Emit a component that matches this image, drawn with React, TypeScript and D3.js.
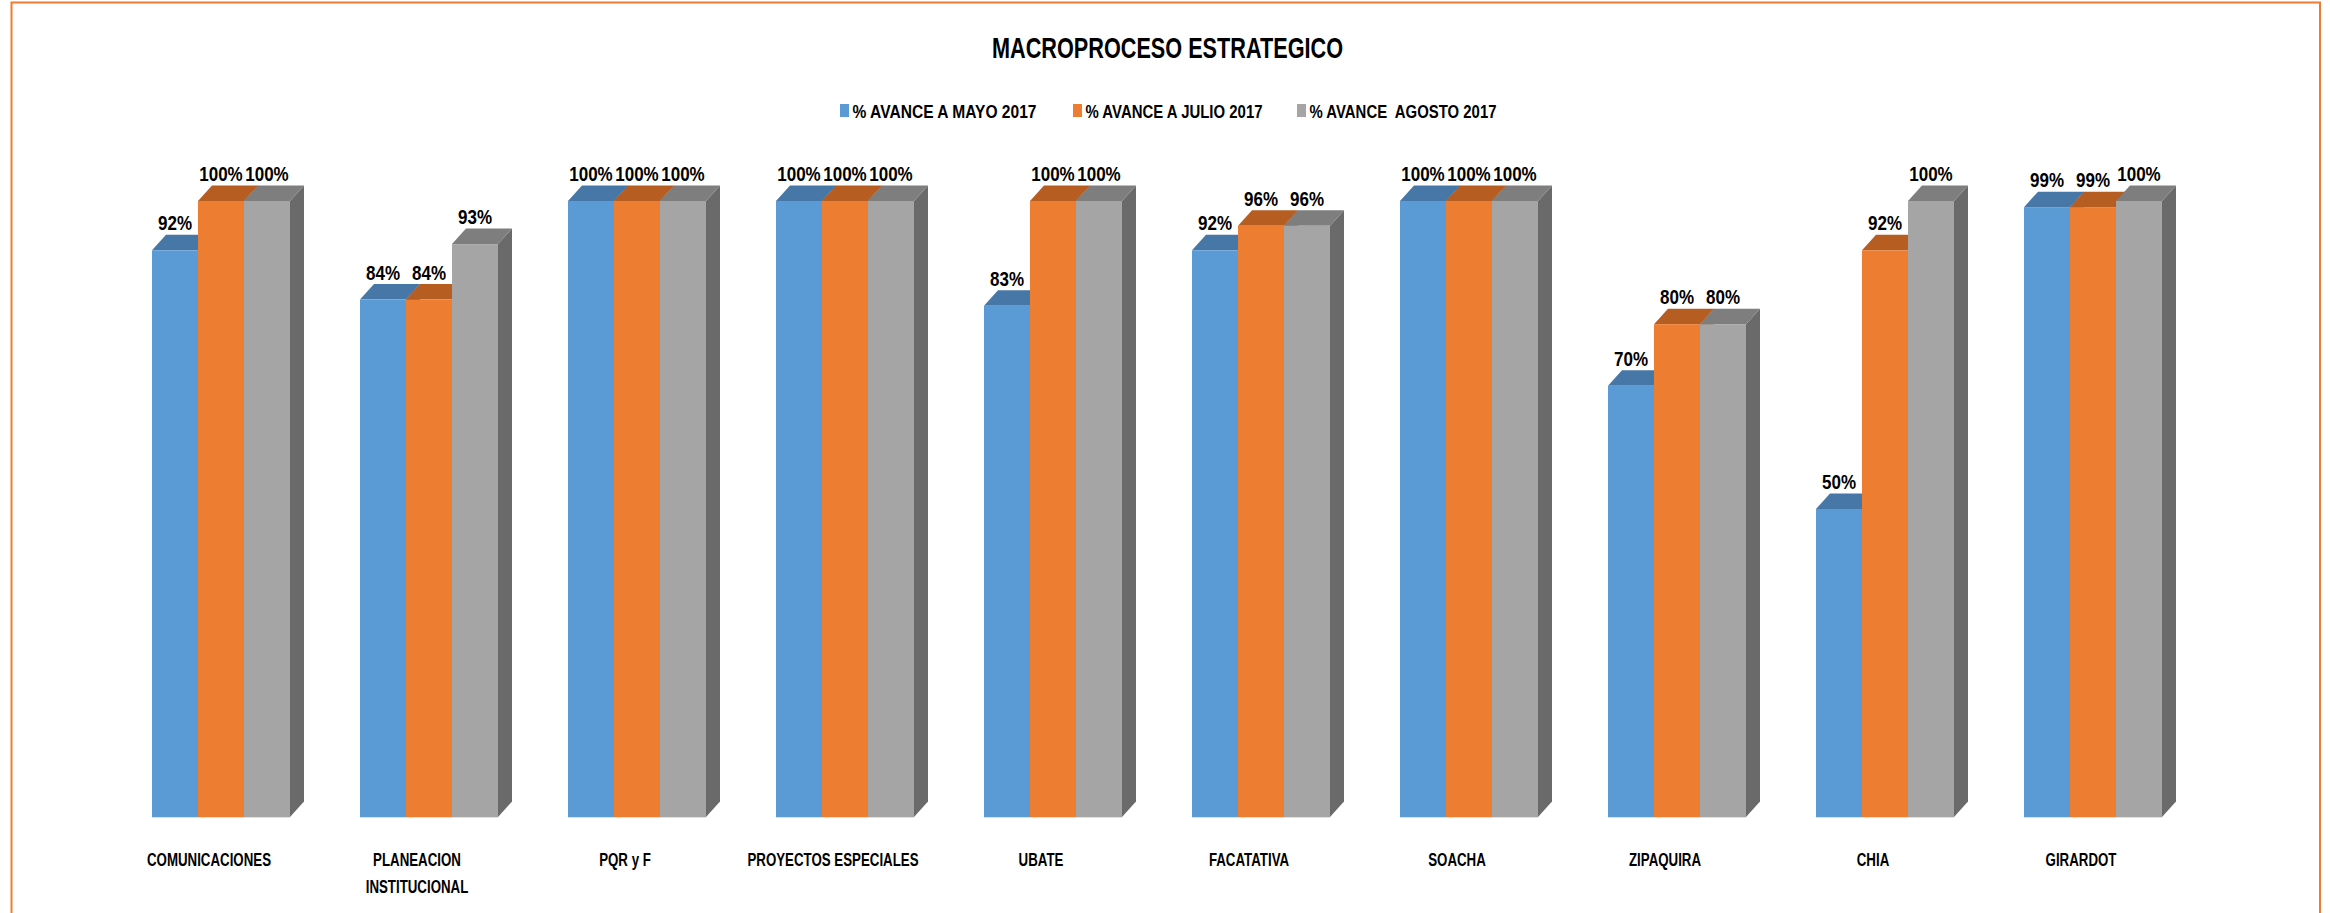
import React from "react";
import * as d3 from "d3";

const categories = [
  "COMUNICACIONES",
  "PLANEACION\nINSTITUCIONAL",
  "PQR y F",
  "PROYECTOS ESPECIALES",
  "UBATE",
  "FACATATIVA",
  "SOACHA",
  "ZIPAQUIRA",
  "CHIA",
  "GIRARDOT",
];
const seriesNames = [
  "% AVANCE A MAYO 2017",
  "% AVANCE A JULIO 2017",
  "% AVANCE  AGOSTO 2017",
];
const mayo = [92, 84, 100, 100, 83, 92, 100, 70, 50, 99];
const julio = [100, 84, 100, 100, 100, 96, 100, 80, 92, 99];
const agosto = [100, 93, 100, 100, 100, 96, 100, 80, 100, 100];
const seriesValues = [mayo, julio, agosto];

const W = 2330;
const H = 913;
const FONT = "'Liberation Sans', Arial, sans-serif";

const colors = [
  { front: "#5B9BD5", top: "#4677A6", side: "#3F6D98" },
  { front: "#ED7D31", top: "#B65D22", side: "#A9561F" },
  { front: "#A5A5A5", top: "#7E7E7E", side: "#6A6A6A" },
];

const DX = 14;
const DY = 15.5;

export default function App() {
  const x0 = d3
    .scaleBand<number>()
    .domain(d3.range(categories.length))
    .range([152, 2162])
    .paddingInner(70 / 208)
    .paddingOuter(0);
  const x1 = d3
    .scaleBand<number>()
    .domain([0, 1, 2])
    .range([0, x0.bandwidth()]);
  const y = d3.scaleLinear().domain([0, 100]).range([817, 201]);

  const legendX = [840, 1073, 1297];
  const legendW = [184, 177, 187];

  return (
    <svg
      width={W}
      height={H}
      style={{ position: "absolute", left: 0, top: 0, background: "#fff" }}
      fontFamily={FONT}
    >
      <rect x={0} y={0} width={W} height={H} fill="#fff" />
      <rect
        x={11.5}
        y={2.5}
        width={2320 - 11.5}
        height={H + 20}
        fill="none"
        stroke="#ED7D31"
        strokeWidth={2}
      />
      <text
        x={992}
        y={58}
        fontSize={30}
        fontWeight="bold"
        fill="#000"
        textLength={351}
        lengthAdjust="spacingAndGlyphs"
      >
        MACROPROCESO ESTRATEGICO
      </text>
      {seriesNames.map((s, i) => (
        <g key={s}>
          <rect x={legendX[i]} y={104} width={9} height={13} fill={colors[i].front} />
          <text
            x={legendX[i] + 12.5}
            y={117.5}
            fontSize={18.5}
            fontWeight="bold"
            fill="#000"
            textLength={legendW[i]}
            lengthAdjust="spacingAndGlyphs"
            style={{ whiteSpace: "pre" }}
          >
            {s}
          </text>
        </g>
      ))}
      {categories.map((c, ci) => (
        <g key={c} transform={`translate(${x0(ci)},0)`}>
          {seriesValues.map((vals, si) => {
            const v = vals[ci];
            const bx = x1(si) as number;
            const bw = x1.bandwidth();
            const yt = y(v);
            const yb = y(0);
            const col = colors[si];
            return (
              <g key={si}>
                <path
                  d={`M${bx + bw},${yt} L${bx + bw + DX},${yt - DY} L${bx + bw + DX},${yb - DY} L${bx + bw},${yb} Z`}
                  fill={col.side}
                />
                <path
                  d={`M${bx},${yt} L${bx + DX},${yt - DY} L${bx + bw + DX},${yt - DY} L${bx + bw},${yt} Z`}
                  fill={col.top}
                />
                <rect x={bx} y={yt} width={bw} height={yb - yt} fill={col.front} />
              </g>
            );
          })}
          <line
            x1={0}
            x2={x0.bandwidth()}
            y1={y(0) + 0.5}
            y2={y(0) + 0.5}
            stroke="#D6E1EE"
            strokeWidth={1}
          />
          {seriesValues.map((vals, si) => {
            const v = vals[ci];
            const bx = (x1(si) as number) + x1.bandwidth() / 2;
            return (
              <text
                key={"t" + si}
                transform={`translate(${bx},${y(v) - DY - 4.5}) scale(0.85,1)`}
                textAnchor="middle"
                fontSize={20}
                fontWeight="bold"
                fill="#000"
              >
                {v + "%"}
              </text>
            );
          })}
          {c.split("\n").map((line, li) => (
            <text
              key={"c" + li}
              transform={`translate(${x0.bandwidth() / 2 - 12},${865.5 + li * 27}) scale(0.76,1)`}
              textAnchor="middle"
              fontSize={17.5}
              fontWeight="bold"
              fill="#000"
            >
              {line}
            </text>
          ))}
        </g>
      ))}
    </svg>
  );
}
